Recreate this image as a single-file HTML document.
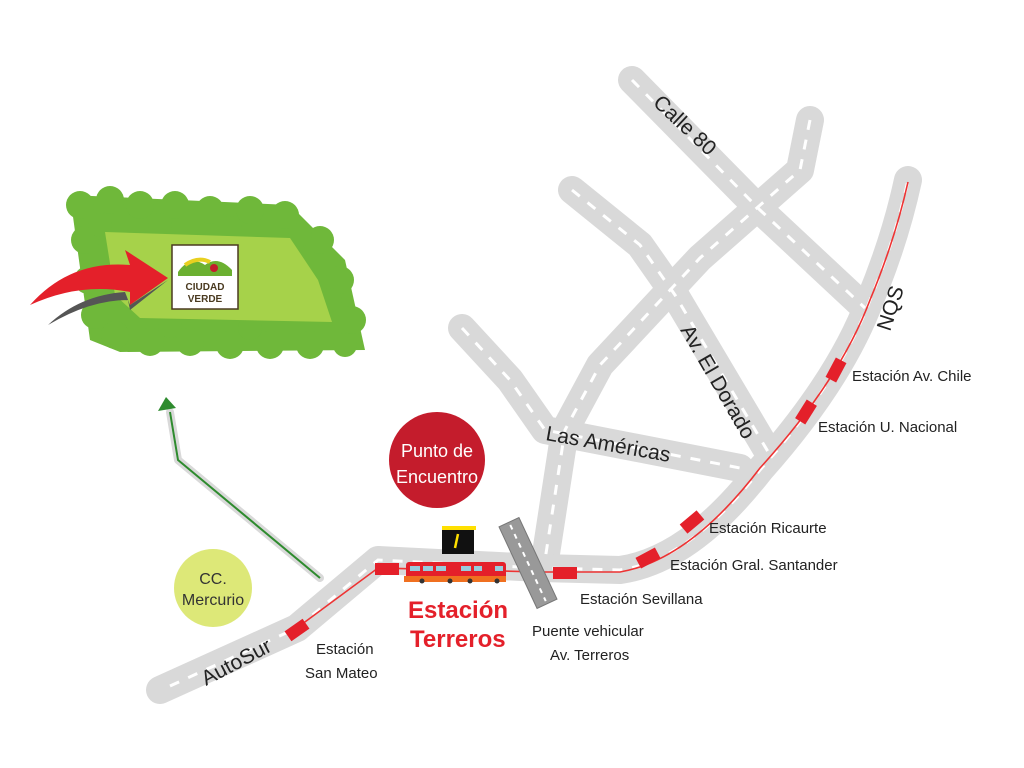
<!DOCTYPE html>
<html><head><meta charset="utf-8"><style>
html,body{margin:0;padding:0;background:#fff;width:1024px;height:768px;overflow:hidden}
svg{display:block}
text{font-family:"Liberation Sans",sans-serif}
</style></head><body>
<svg width="1024" height="768" viewBox="0 0 1024 768">
<g fill="none" stroke="#d9d9d9" stroke-width="28" stroke-linecap="round" stroke-linejoin="round">
 <path d="M632 80 L760 210 L865 308"/>
 <path d="M810 120 L800 170 L700 258 L600 365 L565 430 L545 560"/>
 <path d="M572 190 L640 245 L675 295 L770 455"/>
 <path d="M462 328 L510 380 L545 430 L740 468"/>
 <path d="M160 690 L297 628 L378 560 L540 568 L620 570 Q690 560 760 470 Q840 380 870 300 Q895 240 908 180"/>
</g>
<g fill="none" stroke="#fff" stroke-width="3" stroke-dasharray="10 10">
 <path d="M632 80 L760 210 L865 308"/>
 <path d="M810 120 L800 170 L700 258 L600 365 L565 430 L545 560"/>
 <path d="M572 190 L640 245 L675 295 L770 455"/>
 <path d="M462 328 L510 380 L545 430 L740 468"/>
 <path d="M170 686 L297 628 L378 560 L540 568 L620 570 Q690 560 760 470 Q840 380 870 300 Q895 240 908 180"/>
</g>
<path d="M290 633 L378 568 L540 572 L620 572 Q690 560 760 468 Q840 380 870 300 Q895 240 908 182" fill="none" stroke="#e33" stroke-width="1.6"/>
<g fill="#e4202a">
 <rect x="-11" y="-6" width="22" height="12" transform="translate(297,630) rotate(-35)"/>
 <rect x="375" y="563" width="24" height="12"/>
 <rect x="553" y="567" width="24" height="12"/>
 <rect x="-11" y="-6" width="22" height="12" transform="translate(648,558) rotate(-28)"/>
 <rect x="-11" y="-6" width="22" height="12" transform="translate(692,522) rotate(-40)"/>
 <rect x="-11" y="-6" width="22" height="12" transform="translate(806,412) rotate(-58)"/>
 <rect x="-11" y="-6" width="22" height="12" transform="translate(836,370) rotate(-62)"/>
</g>
<g transform="translate(528,563) rotate(-25)">
 <rect x="-11" y="-45" width="22" height="90" fill="#999" stroke="#777"/>
 <line x1="0" y1="-42" x2="0" y2="42" stroke="#fff" stroke-width="2" stroke-dasharray="5 5"/>
</g>
<rect x="406" y="562" width="100" height="20" fill="#e4202a" rx="3"/>
<rect x="404" y="576" width="102" height="6" fill="#f07020"/>
<g fill="#9cd">
 <rect x="410" y="566" width="10" height="5"/><rect x="423" y="566" width="10" height="5"/><rect x="436" y="566" width="10" height="5"/>
 <rect x="461" y="566" width="10" height="5"/><rect x="474" y="566" width="8" height="5"/><rect x="495" y="566" width="8" height="5"/>
</g>
<g fill="#333"><circle cx="422" cy="581" r="2.5"/><circle cx="450" cy="581" r="2.5"/><circle cx="470" cy="581" r="2.5"/><circle cx="497" cy="581" r="2.5"/></g>
<rect x="442" y="530" width="32" height="24" fill="#111"/>
<rect x="442" y="526" width="34" height="4" fill="#ffe000"/>
<line x1="458" y1="534" x2="455" y2="548" stroke="#ffe000" stroke-width="2.5"/>
<path d="M320 578 L178 460 L170 412" fill="none" stroke="#d9d9d9" stroke-width="8" stroke-linecap="round" stroke-linejoin="round"/>
<path d="M320 578 L178 460 L170 412" fill="none" stroke="#2e8b2e" stroke-width="2"/>
<polygon points="158,411 166,397 176,408" fill="#2e8b2e"/>
<circle cx="437" cy="460" r="48" fill="#c41c2c"/>
<text x="437" y="457" fill="#fff" font-size="18" text-anchor="middle">Punto de</text>
<text x="437" y="483" fill="#fff" font-size="18" text-anchor="middle">Encuentro</text>
<circle cx="213" cy="588" r="39" fill="#dde878"/>
<text x="213" y="584" fill="#333" font-size="16" text-anchor="middle">CC.</text>
<text x="213" y="605" fill="#333" font-size="16" text-anchor="middle">Mercurio</text>
<polygon points="70,195 290,205 345,260 365,350 120,352 90,340" fill="#6fb83a"/>
<g fill="#6fb83a">
 <circle cx="80" cy="205" r="14"/><circle cx="110" cy="200" r="14"/><circle cx="140" cy="205" r="14"/><circle cx="175" cy="205" r="14"/><circle cx="210" cy="210" r="14"/><circle cx="250" cy="210" r="14"/><circle cx="285" cy="215" r="14"/>
 <circle cx="320" cy="240" r="14"/><circle cx="340" cy="280" r="14"/><circle cx="352" cy="320" r="14"/><circle cx="345" cy="345" r="12"/>
 <circle cx="310" cy="345" r="14"/><circle cx="270" cy="345" r="14"/><circle cx="230" cy="345" r="14"/><circle cx="190" cy="342" r="14"/><circle cx="150" cy="342" r="14"/><circle cx="115" cy="335" r="14"/>
 <circle cx="85" cy="240" r="14"/><circle cx="88" cy="280" r="14"/><circle cx="95" cy="315" r="14"/>
 <circle cx="100" cy="225" r="12"/><circle cx="160" cy="225" r="12"/><circle cx="230" cy="228" r="12"/><circle cx="300" cy="235" r="12"/><circle cx="330" cy="300" r="12"/><circle cx="250" cy="328" r="12"/><circle cx="170" cy="326" r="12"/>
</g>
<polygon points="105,232 290,238 318,280 332,322 140,318 115,295" fill="#a6d24a"/>
<rect x="172" y="245" width="66" height="64" fill="#fff" stroke="#4a3a20" stroke-width="1.5"/>
<path d="M178 272 Q190 255 205 265 Q218 255 232 270 L232 276 L178 276Z" fill="#6bb030"/>
<path d="M185 265 Q198 256 210 262" stroke="#e8d020" stroke-width="4" fill="none"/>
<circle cx="214" cy="268" r="4" fill="#c41c2c"/>
<text x="205" y="290" font-size="10" font-weight="bold" fill="#4a3a20" text-anchor="middle">CIUDAD</text>
<text x="205" y="302" font-size="10" font-weight="bold" fill="#4a3a20" text-anchor="middle">VERDE</text>
<path d="M48 325 Q80 295 125 292 L130 305 L168 280 L130 310 L128 300 Q90 300 48 325Z" fill="#555"/>
<path d="M30 305 Q70 260 130 265 L125 250 L168 278 L130 305 L130 292 Q80 282 30 305Z" fill="#e4202a"/>
<g fill="#222" font-size="21">
 <text transform="translate(652,104) rotate(43)">Calle 80</text>
 <text transform="translate(680,330) rotate(60)">Av. El Dorado</text>
 <text transform="translate(545,440) rotate(10)">Las Américas</text>
 <text transform="translate(890,332) rotate(-72)">NQS</text>
 <text transform="translate(206,686) rotate(-28)">AutoSur</text>
</g>
<g fill="#222" font-size="15">
 <text x="852" y="381">Estación Av. Chile</text>
 <text x="818" y="432">Estación U. Nacional</text>
 <text x="709" y="533">Estación Ricaurte</text>
 <text x="670" y="570">Estación Gral. Santander</text>
 <text x="580" y="604">Estación Sevillana</text>
 <text x="532" y="636">Puente vehicular</text>
 <text x="550" y="660">Av. Terreros</text>
 <text x="316" y="654">Estación</text>
 <text x="305" y="678">San Mateo</text>
</g>
<text x="408" y="618" fill="#e4202a" font-size="24" font-weight="bold">Estación</text>
<text x="410" y="647" fill="#e4202a" font-size="24" font-weight="bold">Terreros</text>
</svg>
</body></html>
